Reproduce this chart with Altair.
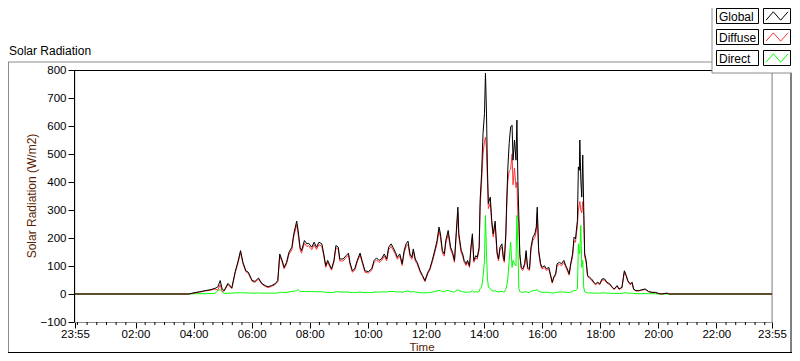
import altair as alt
import pandas as pd

# ---------------- data ----------------
times = ["23:55", "03:50",
         "04:03", "04:13", "04:24", "04:34", "04:44", "04:50", "04:55", "04:59", "05:03", "05:11",
         "05:19", "05:26", "05:32", "05:37", "05:42", "05:48", "05:53", "06:01", "06:07", "06:14",
         "06:21", "06:28", "06:34", "06:41", "06:48", "06:54", "06:58", "07:03", "07:07", "07:12",
         "07:17", "07:23", "07:27", "07:33", "07:36", "07:40", "07:43", "07:49", "07:54", "07:58",
         "08:04", "08:09", "08:14", "08:19", "08:25", "08:29", "08:33", "08:37", "08:42", "08:45",
         "08:50", "08:54", "08:59", "09:02", "09:09", "09:15", "09:20", "09:23", "09:28", "09:33",
         "09:38", "09:44", "09:48", "09:54", "10:01", "10:08", "10:13", "10:18", "10:23", "10:28",
         "10:34", "10:39", "10:43", "10:48", "10:52", "10:57", "11:01", "11:06", "11:11", "11:15",
         "11:19", "11:23", "11:27", "11:31", "11:34", "11:38", "11:42", "11:48", "11:53", "11:58",
         "12:04", "12:08", "12:13", "12:19", "12:23", "12:27", "12:30", "12:34", "12:38", "12:41",
         "12:46", "12:51", "12:55", "12:59", "13:02", "13:06", "13:08", "13:13", "13:16", "13:19",
         "13:23", "13:26", "13:30", "13:33", "13:36", "13:39", "13:43", "13:46", "13:50", "13:52",
         "13:55", "13:58", "14:01", "14:03", "14:05", "14:07", "14:09", "14:13", "14:16", "14:19",
         "14:23", "14:27", "14:30", "14:33", "14:37", "14:40", "14:42", "14:45", "14:47", "14:49",
         "14:52", "14:55", "14:58", "15:00", "15:03", "15:06", "15:08", "15:10", "15:12", "15:14",
         "15:17", "15:20", "15:24", "15:27", "15:30", "15:34", "15:37", "15:41", "15:45", "15:48",
         "15:50", "15:53", "15:57", "16:00", "16:05", "16:09", "16:14", "16:17", "16:21", "16:24",
         "16:28", "16:31", "16:36", "16:40", "16:45", "16:49", "16:52", "16:56", "16:59", "17:03",
         "17:06", "17:09", "17:13", "17:15", "17:17", "17:18", "17:20", "17:22", "17:24", "17:26",
         "17:28", "17:31", "17:34", "17:38", "17:42", "17:47", "17:50", "17:55", "17:59", "18:04",
         "18:09", "18:14", "18:20", "18:25", "18:29", "18:35", "18:39", "18:45", "18:48", "18:50",
         "18:54", "18:57", "19:02", "19:06", "19:09", "19:14", "19:20", "19:26", "19:33", "19:40",
         "19:47", "19:54", "20:00", "20:07", "20:18", "20:22", "23:55"]

global_vals = [0, 0,
               5, 8, 12, 15, 20, 25, 48, 18, 12, 38,
               22, 80, 118, 155, 113, 83, 78, 48, 45, 57,
               38, 30, 26, 30, 36, 48, 143, 120, 95, 113,
               149, 167, 215, 260, 227, 167, 155, 191, 179, 181,
               167, 185, 167, 185, 179, 143, 101, 120, 101, 90,
               120, 173, 167, 125, 125, 137, 146, 113, 83, 90,
               120, 146, 120, 83, 80, 90, 120, 129, 120, 125,
               143, 125, 167, 179, 167, 149, 131, 143, 108, 155,
               179, 189, 143, 131, 161, 125, 113, 83, 66, 48,
               78, 90, 120, 161, 191, 239, 215, 155, 143, 191,
               227, 167, 149, 120, 203, 310, 215, 155, 143, 120,
               108, 120, 101, 167, 215, 120, 137, 131, 167, 335,
               430, 574, 645, 789, 657, 454, 323, 346, 263, 215,
               260, 150, 125, 167, 179, 131, 120, 215, 335, 442,
               538, 597, 603, 478, 550, 478, 621, 406, 275, 143,
               95, 90, 108, 155, 95, 90, 167, 203, 215, 239,
               310, 155, 108, 95, 101, 90, 95, 72, 42, 60,
               72, 108, 113, 108, 120, 101, 90, 72, 108, 143,
               203, 197, 263, 454, 442, 550, 406, 346, 496, 310,
               143, 120, 66, 60, 54, 42, 36, 42, 36, 54,
               54, 42, 36, 24, 18, 30, 18, 24, 60, 83,
               66, 48, 36, 42, 18, 12, 12, 15, 18, 9,
               6, 6, 2, 0, 3, 0, 0]

diffuse_vals = [0, 0,
                4, 7, 11, 13, 18, 14, 33, 10, 10, 34,
                19, 76, 112, 148, 108, 79, 74, 45, 42, 53,
                35, 27, 23, 27, 33, 44, 136, 114, 90, 107,
                141, 158, 205, 248, 214, 158, 146, 181, 170, 172,
                158, 176, 159, 176, 170, 136, 95, 114, 95, 85,
                114, 165, 159, 118, 118, 130, 139, 107, 78, 85,
                114, 139, 114, 78, 75, 85, 113, 122, 113, 118,
                135, 118, 158, 170, 158, 141, 124, 135, 102, 147,
                169, 178, 135, 124, 152, 118, 107, 78, 62, 44,
                73, 85, 113, 152, 180, 226, 203, 146, 135, 180,
                214, 158, 141, 113, 191, 292, 203, 146, 135, 113,
                102, 113, 95, 158, 203, 113, 129, 124, 158, 310,
                400, 500, 545, 560, 520, 410, 305, 325, 250, 204,
                245, 142, 118, 158, 169, 124, 113, 200, 310, 400,
                440, 445, 500, 390, 450, 380, 400, 280, 255, 134,
                89, 84, 101, 146, 89, 84, 157, 191, 202, 224,
                290, 146, 101, 89, 95, 84, 89, 67, 39, 56,
                67, 101, 106, 101, 113, 95, 84, 67, 101, 134,
                190, 185, 245, 300, 320, 330, 300, 290, 330, 280,
                135, 113, 62, 56, 50, 39, 33, 39, 33, 50,
                50, 39, 33, 22, 16, 28, 16, 22, 56, 78,
                62, 45, 33, 39, 16, 11, 11, 14, 16, 8,
                5, 5, 2, 0, 3, 0, 0]

direct_vals = [0, 0,
               1, 1, 1, 2, 2, 12, 16, 8, 2, 3,
               3, 4, 4, 5, 4, 4, 4, 3, 3, 4,
               3, 3, 3, 3, 3, 4, 6, 6, 5, 6,
               7, 9, 10, 12, 16, 9, 9, 9, 9, 9,
               9, 8, 8, 8, 8, 7, 6, 6, 6, 5,
               6, 8, 8, 7, 7, 7, 7, 6, 5, 5,
               6, 7, 6, 5, 5, 5, 7, 7, 7, 7,
               8, 7, 9, 9, 9, 8, 7, 8, 6, 8,
               10, 11, 8, 7, 9, 7, 6, 5, 4, 4,
               5, 5, 7, 9, 11, 13, 12, 9, 8, 11,
               13, 9, 8, 7, 12, 16, 12, 9, 8, 7,
               6, 7, 6, 9, 12, 7, 8, 7, 9, 20,
               24, 60, 120, 281, 155, 60, 24, 20, 12, 10,
               12, 8, 7, 9, 10, 7, 7, 17, 30, 50,
               120, 185, 95, 120, 108, 100, 281, 167, 20, 9,
               6, 6, 7, 9, 6, 6, 10, 12, 13, 14,
               16, 9, 7, 6, 6, 6, 6, 5, 3, 4,
               5, 7, 7, 7, 7, 6, 6, 5, 7, 9,
               13, 12, 18, 179, 143, 150, 245, 95, 120, 24,
               8, 6, 4, 4, 4, 3, 3, 3, 3, 4,
               4, 3, 3, 2, 2, 2, 2, 2, 4, 5,
               4, 3, 3, 3, 2, 1, 1, 1, 2, 1,
               1, 1, 0, 0, 0, 0, 0]

series_names = ["Global", "Diffuse", "Direct"]
series_colors = ["#000000", "#ff3333", "#00ff00"]
x_tick_labels = ["23:55", "02:00", "04:00", "06:00", "08:00", "10:00", "12:00",
                 "14:00", "16:00", "18:00", "20:00", "22:00", "23:55"]
y_tick_values = [-100, 0, 100, 200, 300, 400, 500, 600, 700, 800]

# ---------------- helpers ----------------
def to_min(t):
    h, m = t.split(":")
    return (int(h) * 60 + int(m) + 5) % 1440

mins = [to_min(t) for t in times]
mins[-1] = 1440
major_mins = [to_min(t) for t in x_tick_labels]
major_mins[-1] = 1440
minor_mins = sorted({to_min(f"{h:02d}:{m:02d}") for h in range(24) for m in (0, 20, 40)} - set(major_mins))

df = pd.DataFrame({"m": mins, "Global": global_vals, "Diffuse": diffuse_vals, "Direct": direct_vals})
minor_df = pd.DataFrame({"m": minor_mins})
one = pd.DataFrame({"a": [0]})

W, H = 697, 252
FONT = "Liberation Sans"
FS = 11.5
GRAY = "#8c8c8c"
TITLE_COLOR = "#5a1e00"

x_scale = alt.Scale(domain=[0, 1440], nice=False, zero=False)
y_scale = alt.Scale(domain=[-100, 800], nice=False, zero=False)

x_axis = alt.Axis(values=major_mins, labelExpr="timeFormat(datetime(2000, 0, 1, 23, 55 + datum.value), '%H:%M')",
                  title=None, grid=False, domainColor=GRAY, tickColor="black", tickSize=6,
                  labelPadding=0, labelFont=FONT, labelFontSize=FS, labelColor="black",
                  labelOverlap=False, labelFlush=False)
y_axis = alt.Axis(values=y_tick_values, title=None, grid=False, domainColor="black", tickColor="black",
                  tickSize=6, labelPadding=2, labelFont=FONT, labelFontSize=FS, labelColor="black",
                  offset=1)

x_enc = alt.X("m:Q", scale=x_scale, axis=x_axis)


def line_layer(col, color):
    return alt.Chart(df).mark_line(color=color, strokeWidth=1).encode(
        x=x_enc,
        y=alt.Y(f"{col}:Q", scale=y_scale, axis=y_axis),
    )


def rule(x1, x2, y1, y2, color):
    return alt.Chart(one).mark_rule(color=color, strokeWidth=1).encode(
        x=alt.value(x1), x2=alt.value(x2), y=alt.value(y1), y2=alt.value(y2))


# canvas is 784 x 345 (page 8..792, 8..353); plot origin at page (75, 70)
RIGHT = 716      # right frame edge (page 791)
BOTTOM = 282.5   # bottom frame edge (page 352)
LEG_L = 637      # legend panel left (page 712)

layers = []
# outer frame
layers += [rule(-67, LEG_L, -8, -8, GRAY), rule(-66.5, -66.5, -8, BOTTOM, GRAY),
           rule(-67, RIGHT + 1, BOTTOM, BOTTOM, "black"), rule(RIGHT, RIGHT, -8, BOTTOM, "black")]
# plot frame
layers += [rule(-2, W, 0.5, 0.5, "black"), rule(W, W, 0, H, GRAY)]
# minor ticks on x
layers.append(alt.Chart(minor_df).mark_rule(color="black", strokeWidth=1).encode(
    x=x_enc, y=alt.value(H), y2=alt.value(H + 3)))
# data lines (Global on top)
layers.append(line_layer("Direct", series_colors[2]))
layers.append(line_layer("Diffuse", series_colors[1]))
layers.append(line_layer("Global", series_colors[0]))

# legend panel
layers.append(alt.Chart(one).mark_rect(fill="white").encode(
    x=alt.value(LEG_L), x2=alt.value(RIGHT + 1), y=alt.value(-62), y2=alt.value(3)))
layers += [rule(LEG_L, LEG_L, -62, 3, GRAY), rule(LEG_L, RIGHT + 1, 3, 3, GRAY)]
zigzag = "M -1 0.38 L -0.33 -0.38 L 0.33 0.38 L 1 -0.38"
for i, (name, color) in enumerate(zip(series_names, series_colors)):
    top = -62 + 21 * i
    layers.append(alt.Chart(one).mark_rect(fill="white", stroke="black", strokeWidth=1).encode(
        x=alt.value(LEG_L + 4.5), x2=alt.value(LEG_L + 46.5), y=alt.value(top + 0.5), y2=alt.value(top + 15.5)))
    layers.append(alt.Chart(one).mark_rect(fill="white", stroke="black", strokeWidth=1).encode(
        x=alt.value(LEG_L + 51.5), x2=alt.value(LEG_L + 78.5), y=alt.value(top + 0.5), y2=alt.value(top + 15.5)))
    layers.append(alt.Chart(one).mark_text(text=name, align="left", baseline="middle", font=FONT,
                                           fontSize=12, color="black").encode(
        x=alt.value(LEG_L + 7), y=alt.value(top + 8.5)))
    layers.append(alt.Chart(one).mark_point(shape=zigzag, filled=False, size=484, strokeWidth=1,
                                            color=color, opacity=1).encode(
        x=alt.value(LEG_L + 65), y=alt.value(top + 8)))

# texts
layers.append(alt.Chart(one).mark_text(text="Solar Radiation", align="left", baseline="alphabetic",
                                       font=FONT, fontSize=12, color="black").encode(
    x=alt.value(-66), y=alt.value(-15)))
layers.append(alt.Chart(one).mark_text(text="Solar Radiation (W/m2)", angle=270, align="center",
                                       baseline="middle", font=FONT, fontSize=12, color=TITLE_COLOR).encode(
    x=alt.value(-43), y=alt.value(126)))
layers.append(alt.Chart(one).mark_text(text="Time", align="center", baseline="alphabetic",
                                       font=FONT, fontSize=11.5, color=TITLE_COLOR).encode(
    x=alt.value(347), y=alt.value(281)))

chart = alt.layer(*layers).properties(
    width=W, height=H,
    autosize=alt.AutoSizeParams(type="none"),
    padding={"left": 67, "top": 62, "right": 784 - 67 - W, "bottom": 345 - 62 - H},
).configure_view(stroke=None).configure(background="white")

chart.save("out.html", embed_options={"renderer": "svg", "actions": False})
